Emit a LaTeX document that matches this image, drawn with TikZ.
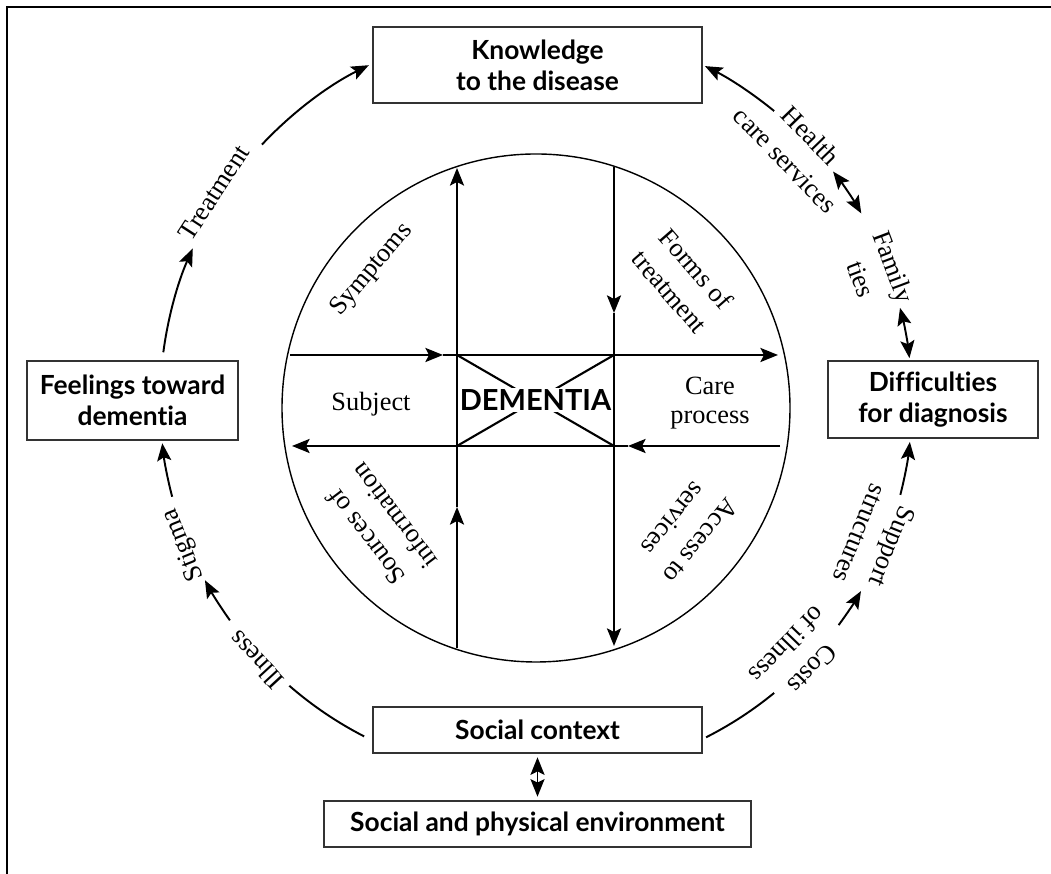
\documentclass[tikz,border=0pt]{standalone}
\usepackage{fontspec}
\setmainfont{Liberation Serif}
\newfontfamily\boxfont{Lato}[Ligatures=NoCommon]
\usetikzlibrary{calc,arrows.meta}
\def\ringarc[#1](#2:#3){\draw[#1] ($(ring)+(#2:376)$) arc (#2:#3:376);}

\tikzset{
  box/.style={draw=black!80, line width=0.9pt, align=center, inner sep=2pt,
    font=\boxfont\bfseries\fontsize{15}{17.5}\selectfont},
  lbl/.style={align=center, inner sep=0pt, font=\fontsize{15}{20}\selectfont},
  tip/.style={Stealth[length=10pt,width=8pt,inset=2pt]},
  arr/.style={line width=1.1pt, -{Stealth[length=10pt,width=8pt,inset=2pt]}},
  dbl/.style={line width=1.1pt, {Stealth[length=10pt,width=8pt,inset=2pt]}-{Stealth[length=10pt,width=8pt,inset=2pt]}},
  ringline/.style={line width=1.1pt},
  cross/.style={line width=1.2pt},
}

\begin{document}
\begin{tikzpicture}[x=0.02cm,y=0.02cm]
			%%%%% START %%%%%
			\useasboundingbox (0,0) rectangle (1051,874);
			
			\draw[line width=1.2pt] (7,0) -- (7,867) -- (1051,867);
			
			\coordinate (ring) at (536,472);
			\coordinate (core) at (536,466);
			
			%%%%% BOXES %%%%%
			\node[box, minimum width=6.58cm, minimum height=1.52cm] (know) at (537.5,809) {Knowledge\\to the disease};
			\node[box, minimum width=4.22cm, minimum height=1.58cm] (feel) at (132.5,473.5) {Feelings toward\\dementia};
			\node[box, minimum width=4.2cm, minimum height=1.54cm] (diff) at (933,474.5) {Difficulties\\for diagnosis};
			\node[box, minimum width=6.58cm, minimum height=0.92cm] (soc) at (537.5,144) {Social context};
			\node[box, minimum width=8.54cm, minimum height=0.92cm] (env) at (537.5,50) {Social and physical environment};
			
			\draw[dbl, shorten <=2pt, shorten >=2pt] (soc) -- (env);
			
			%%%%% INNER CIRCLE %%%%%
			\draw[line width=0.8pt] (core) circle (254);
			
			\coordinate (v1t) at (457,706);
			\coordinate (v1m) at (457,367);
			\coordinate (v1b) at (457,226);
			\coordinate (v2t) at (614,707);
			\coordinate (v2m) at (614,561);
			\coordinate (v2b) at (614,228);
			\coordinate (h1l) at (290,519);
			\coordinate (h1m) at (443,519);
			\coordinate (h1r) at (778,519);
			\coordinate (h2r) at (780,428);
			\coordinate (h2m) at (628,428);
			\coordinate (h2l) at (292,428);
			
			\draw[cross, -{Stealth[length=10pt,width=8pt,inset=2pt]}] (v1b) -- (v1m);
			\draw[cross, -{Stealth[length=10pt,width=8pt,inset=2pt]}] (v1m) -- (v1t);
			\draw[cross, -{Stealth[length=10pt,width=8pt,inset=2pt]}] (v2t) -- (v2m);
			\draw[cross, -{Stealth[length=10pt,width=8pt,inset=2pt]}] (v2m) -- (v2b);
			\draw[cross, -{Stealth[length=10pt,width=8pt,inset=2pt]}] (h1l) -- (h1m);
			\draw[cross, -{Stealth[length=10pt,width=8pt,inset=2pt]}] (h1m) -- (h1r);
			\draw[cross, -{Stealth[length=10pt,width=8pt,inset=2pt]}] (h2r) -- (h2m);
			\draw[cross, -{Stealth[length=10pt,width=8pt,inset=2pt]}] (h2m) -- (h2l);
			
			\coordinate (bxnw) at (457,519);
			\coordinate (bxne) at (614,519);
			\coordinate (bxse) at (614,428);
			\coordinate (bxsw) at (457,428);
			\draw[cross] (bxnw) -- (bxse);
			\draw[cross] (bxsw) -- (bxne);
			
			\node[fill=white, inner sep=1pt, font=\boxfont\bfseries\fontsize{16.5}{18}\selectfont] (dem) at (535.5,474) {DEMENTIA};
			
			\node[lbl, rotate=50] (symp) at (372,604) {Symptoms};
			\node[lbl, rotate=-49] (forms) at (683,594) {Forms of\\treatment};
			\node[lbl, font=\fontsize{15}{16.5}\selectfont] (subj) at (371,470) {Subject};
			\node[lbl, font=\fontsize{15}{16.5}\selectfont] (care) at (710,471) {Care\\process};
			\node[lbl, rotate=127] (sources) at (380,347) {Sources of\\information};
			\node[lbl, rotate=231] (access) at (687,344) {Access to\\services};
			
			%%%%% OUTER RING %%%%%
			\ringarc[arr](172.4:155.9);
			\node[lbl, rotate=57] (treat) at ($(ring)+(147:384)$) {Treatment};
			\ringarc[arr](136.8:116.4);
			
			\ringarc[arr](50.7:63.3);
			\node[lbl, rotate=-45.9] (health) at ($(ring)+(44.1:365)$) {Health\\care services};
			\ringarc[dbl](37.8:30.1);
			\node[lbl, rotate=-69.3] (family) at ($(ring)+(20.7:365)$) {Family\\ties};
			\ringarc[dbl](14.5:6.7);
			
			\ringarc[ringline](242.8:229);
			\node[lbl, rotate=132.7] (illness) at ($(ring)+(222.7:381)$) {Illness};
			\ringarc[arr](215.5:208.3);
			\node[lbl, rotate=112.1] (stigma) at ($(ring)+(202.1:380)$) {Stigma};
			\ringarc[arr](194.6:186.3);
			
			\ringarc[ringline](296.9:309.3);
			\node[lbl, rotate=226] (costs) at ($(ring)+(316:367)$) {Costs\\of illness};
			\ringarc[arr](323.6:329.8);
			\node[lbl, rotate=247.9] (support) at ($(ring)+(337.9:367)$) {Support\\structures};
			\ringarc[arr](345.7:353.9);
			
			%%%%% END %%%%%
\end{tikzpicture}
\end{document}
